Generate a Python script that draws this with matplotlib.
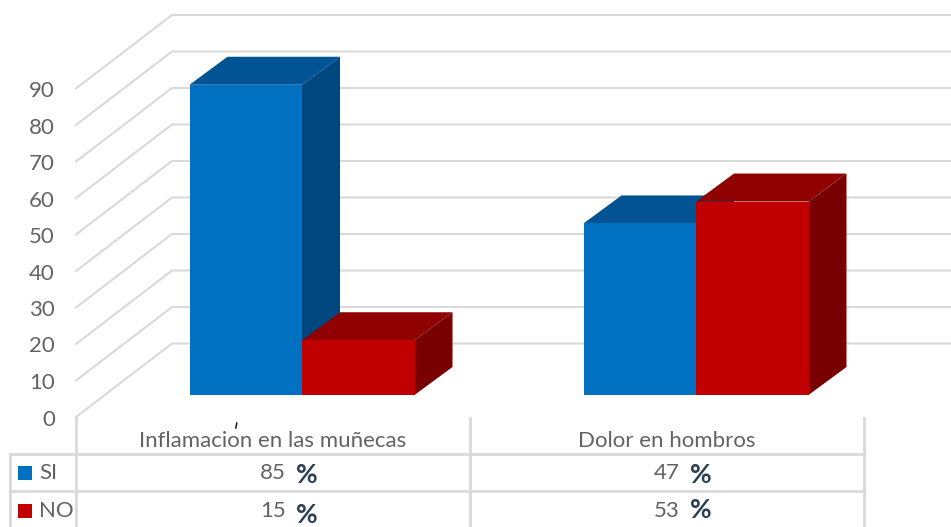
import matplotlib
matplotlib.use('Agg')
import matplotlib.pyplot as plt

categories = ['Inflamacion en las muñecas', 'Dolor en hombros']
series_names = ['SI', 'NO']
si_values = [85, 47]
no_values = [15, 53]
y_ticks = [0, 10, 20, 30, 40, 50, 60, 70, 80, 90]

plt.rcParams['font.family'] = ['Lato', 'DejaVu Sans']

W, H = 951, 527
PX_X = 394.0   # pixels per category
PX_Y = 3.65    # pixels per value unit
X0, Y0 = 76, 417

GRID = '#d9d9d9'
TXT = '#636363'
PCT = '#2b3f55'
SI_COL = ('#0070c0', '#005494', '#00477f')
NO_COL = ('#c00000', '#900000', '#780000')

fig = plt.figure(figsize=(W / 100, H / 100), dpi=100)
ax = fig.add_axes([0, 0, 1, 1])
ax.set_xlim(-X0 / PX_X, (W - X0) / PX_X)
ax.set_ylim((Y0 - H) / PX_Y, Y0 / PX_Y)
ax.axis('off')

def dx(p):
    return p / PX_X

def dy(p):
    return p / PX_Y

def ypx(p):
    return (Y0 - p) / PX_Y

# gridlines on the side wall and the back wall
wall_dx, wall_dy = dx(96), dy(73.5)
for v in y_ticks:
    ax.plot([0, wall_dx, 3], [v, v + wall_dy, v + wall_dy], color=GRID, lw=1.5, zorder=1,
            solid_joinstyle='miter')
    ax.text(dx(-21), v - dy(2.5), str(v), ha='right', va='center', fontsize=16, color=TXT)

# 3d bars
bar_w = dx(112.5)
lift = dy(22)
def bar3d(left, val, cols):
    d_x, d_y = dx(38), dy(28)
    right = left + bar_w
    base = lift
    top = val + lift
    ax.fill([left, right, right + d_x, left + d_x], [top, top, top + d_y, top + d_y],
            color=cols[1], lw=0, zorder=3)
    ax.fill([right, right + d_x, right + d_x, right], [base, base + d_y, top + d_y, top],
            color=cols[2], lw=0, zorder=3)
    ax.fill([left, right, right, left], [base, base, top, top], color=cols[0], lw=0, zorder=3)

for i in range(len(categories)):
    mid = i + dx(226)
    bar3d(mid - bar_w, si_values[i], SI_COL)
    bar3d(mid, no_values[i], NO_COL)

# data table
row_y = [ypx(454), ypx(491)]
bottom = ypx(H)
for i in range(3):
    ax.plot([i, i], [ypx(418) if i else 0, bottom], color=GRID, lw=2, zorder=1)
ax.plot([dx(-66), dx(-66)], [row_y[0], bottom], color=GRID, lw=2, zorder=1)
for y in row_y:
    ax.plot([dx(-66), 2], [y, y], color=GRID, lw=2, zorder=1)

cat_y = ypx(441)
si_y = ypx(473)
no_y = ypx(511)
pct_si_y = [ypx(475), ypx(475)]
pct_no_y = [ypx(515), ypx(510)]
for i, c in enumerate(categories):
    ax.text(i + 0.5, cat_y, c, ha='center', va='center', fontsize=16, color=TXT)
    ax.text(i + 0.5 + dx(13), si_y, str(si_values[i]), ha='right', va='center', fontsize=16, color=TXT)
    ax.text(i + 0.5 + dx(13), no_y, str(no_values[i]), ha='right', va='center', fontsize=16, color=TXT)
    ax.text(i + 0.5 + dx(23), pct_si_y[i], '%', ha='left', va='center', fontsize=19, color=PCT,
            fontweight='bold')
    ax.text(i + 0.5 + dx(23), pct_no_y[i], '%', ha='left', va='center', fontsize=19, color=PCT,
            fontweight='bold')

# legend keys inside the table
for name, y, col in zip(series_names, [si_y, no_y], [SI_COL[0], NO_COL[0]]):
    ax.scatter([dx(-50.5)], [y], marker='s', s=88, color=col, zorder=3, linewidths=0)
    ax.text(dx(-37), y, name, ha='left', va='center', fontsize=16, color=TXT)

# stray scratch above the first category label
ax.plot([dx(160.8), dx(159.8)], [ypx(423), ypx(428)], color='black', lw=1)

fig.savefig('out.png', dpi=100)
plt.close(fig)
